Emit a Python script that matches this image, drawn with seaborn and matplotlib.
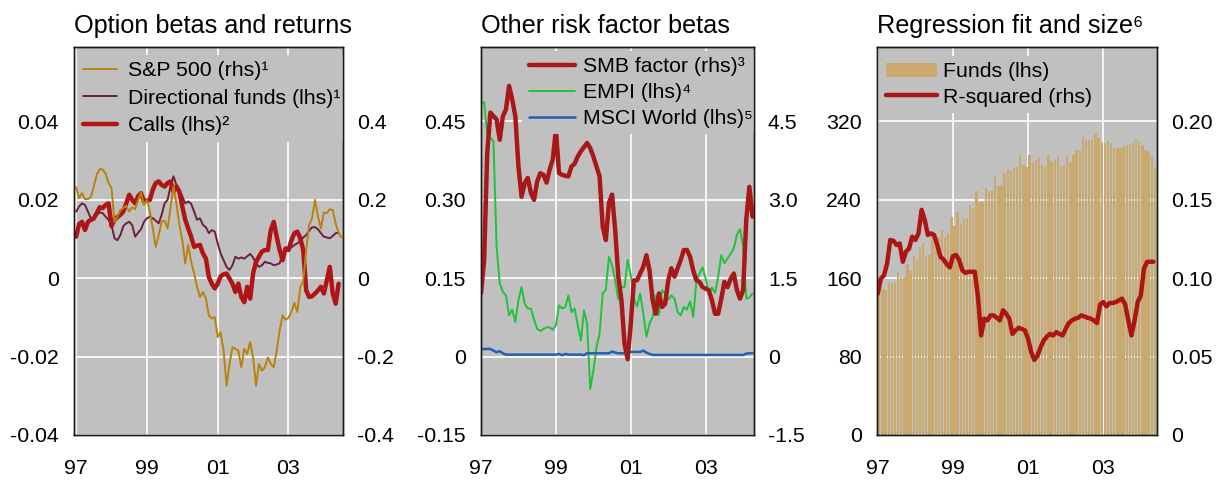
import numpy as np
import matplotlib
matplotlib.use("Agg")
import matplotlib.pyplot as plt
import seaborn as sns

# Monthly data, starting January 1997
sp500 = [0.232, 0.204, 0.217, 0.202, 0.202, 0.207, 0.234, 0.264, 0.279, 0.277,
         0.267, 0.243, 0.230, 0.144, 0.157, 0.174, 0.179, 0.185, 0.170, 0.181,
         0.176, 0.200, 0.219, 0.187, 0.200, 0.170, 0.127, 0.080, 0.110, 0.144,
         0.147, 0.127, 0.179, 0.234, 0.191, 0.136, 0.097, 0.038, 0.085, 0.042,
         0.012, -0.022, -0.048, -0.035, -0.052, -0.095, -0.103, -0.099, -0.150, -0.138,
         -0.185, -0.274, -0.219, -0.176, -0.180, -0.185, -0.227, -0.180, -0.193, -0.163,
         -0.202, -0.274, -0.219, -0.236, -0.227, -0.202, -0.219, -0.227, -0.185, -0.133,
         -0.095, -0.106, -0.101, -0.086, -0.063, -0.086, -0.022, -0.007, 0.072, 0.136,
         0.153, 0.200, 0.157, 0.127, 0.168, 0.166, 0.176, 0.174, 0.140, 0.115,
         0.104]
directional = [0.0170, 0.0183, 0.0191, 0.0187, 0.0170, 0.0153, 0.0149, 0.0162, 0.0168, 0.0166,
               0.0157, 0.0149, 0.0136, 0.0102, 0.0097, 0.0110, 0.0133, 0.0140, 0.0144, 0.0136,
               0.0106, 0.0116, 0.0125, 0.0144, 0.0153, 0.0157, 0.0153, 0.0147, 0.0140, 0.0162,
               0.0191, 0.0200, 0.0234, 0.0260, 0.0238, 0.0226, 0.0209, 0.0191, 0.0196, 0.0190,
               0.0170, 0.0149, 0.0153, 0.0136, 0.0130, 0.0115, 0.0123, 0.0119, 0.0089, 0.0063,
               0.0046, 0.0029, 0.0021, 0.0033, 0.0055, 0.0050, 0.0053, 0.0050, 0.0056, 0.0062,
               0.0053, 0.0038, 0.0029, 0.0033, 0.0042, 0.0039, 0.0038, 0.0033, 0.0035, 0.0038,
               0.0063, 0.0076, 0.0072, 0.0079, 0.0085, 0.0089, 0.0096, 0.0104, 0.0110, 0.0121,
               0.0130, 0.0130, 0.0125, 0.0115, 0.0106, 0.0104, 0.0102, 0.0108, 0.0115, 0.0116]
calls = [0.0106, 0.0138, 0.0144, 0.0123, 0.0144, 0.0149, 0.0153, 0.0166, 0.0181, 0.0179,
         0.0187, 0.0191, 0.0133, 0.0149, 0.0156, 0.0162, 0.0170, 0.0191, 0.0213, 0.0200,
         0.0191, 0.0209, 0.0217, 0.0196, 0.0198, 0.0200, 0.0226, 0.0243, 0.0247, 0.0238,
         0.0234, 0.0243, 0.0247, 0.0221, 0.0234, 0.0221, 0.0183, 0.0149, 0.0127, 0.0106,
         0.0080, 0.0083, 0.0085, 0.0063, 0.0050, 0.0003, -0.0014, -0.0026, -0.0014, 0.0005,
         0.0010, 0.0012, -0.0001, -0.0014, -0.0035, -0.0014, -0.0048, -0.0061, -0.0022, -0.0052,
         0.0012, 0.0042, 0.0055, 0.0068, 0.0072, 0.0072, 0.0123, 0.0144, 0.0106, 0.0072,
         0.0046, 0.0076, 0.0072, 0.0097, 0.0115, 0.0119, 0.0102, 0.0072, -0.0031, -0.0048,
         -0.0046, -0.0039, -0.0031, -0.0022, -0.0039, -0.0005, 0.0029, -0.0039, -0.0065, -0.0014]

smb = [1.21, 1.85, 3.90, 4.67, 4.60, 4.54, 4.15, 4.60, 4.73, 5.18,
       4.92, 4.60, 3.64, 3.06, 3.32, 3.42, 3.13, 3.00, 3.35, 3.51,
       3.48, 3.33, 3.58, 3.77, 4.35, 3.51, 3.48, 3.46, 3.45, 3.64,
       3.69, 3.83, 3.93, 4.01, 4.09, 3.99, 3.83, 3.64, 3.45, 2.49,
       2.23, 2.94, 3.10, 2.42, 1.53, 1.08, 0.24, -0.05, 0.63, 1.46,
       1.46, 1.59, 1.72, 1.94, 1.65, 1.08, 0.82, 1.21, 0.95, 1.01,
       1.46, 1.69, 1.53, 1.69, 1.85, 2.04, 2.04, 1.91, 1.65, 1.46,
       1.43, 1.33, 1.30, 1.27, 1.08, 0.82, 0.82, 1.11, 1.43, 1.33,
       1.49, 1.59, 1.27, 1.11, 1.27, 2.62, 3.25, 2.68]
empi = [0.486, 0.487, 0.425, 0.419, 0.412, 0.210, 0.140, 0.124, 0.117, 0.079,
        0.090, 0.066, 0.108, 0.133, 0.101, 0.092, 0.092, 0.071, 0.053, 0.049,
        0.053, 0.056, 0.056, 0.051, 0.060, 0.098, 0.092, 0.095, 0.117, 0.085,
        0.092, 0.060, 0.031, 0.088, 0.063, -0.062, -0.027, 0.018, 0.044, 0.121,
        0.128, 0.191, 0.175, 0.146, 0.109, 0.133, 0.133, 0.185, 0.156, 0.111,
        0.096, 0.121, 0.083, 0.038, 0.063, 0.076, 0.117, 0.079, 0.127, 0.121,
        0.109, 0.117, 0.111, 0.085, 0.079, 0.095, 0.090, 0.106, 0.076, 0.143,
        0.159, 0.171, 0.149, 0.121, 0.132, 0.122, 0.153, 0.194, 0.179, 0.188,
        0.197, 0.207, 0.233, 0.244, 0.210, 0.111, 0.113, 0.121]
msci = [0.0147, 0.0147, 0.0147, 0.0147, 0.0115, 0.0083, 0.0103, 0.0064, 0.0038, 0.0038,
        0.0038, 0.0038, 0.0038, 0.0038, 0.0038, 0.0038, 0.0038, 0.0038, 0.0038, 0.0038,
        0.0038, 0.0038, 0.0038, 0.0038, 0.0038, 0.0051, 0.0026, 0.0051, 0.0038, 0.0038,
        0.0038, 0.0038, 0.0038, 0.0026, 0.0064, 0.0064, 0.0064, 0.0064, 0.0064, 0.0064,
        0.0064, 0.0064, 0.0096, 0.0077, 0.0064, 0.0064, 0.0064, 0.0077, 0.0090, 0.0090,
        0.0090, 0.0090, 0.0115, 0.0077, 0.0051, 0.0032, 0.0032, 0.0032, 0.0032, 0.0032,
        0.0032, 0.0032, 0.0032, 0.0032, 0.0032, 0.0032, 0.0032, 0.0032, 0.0032, 0.0032,
        0.0032, 0.0032, 0.0032, 0.0032, 0.0032, 0.0032, 0.0032, 0.0032, 0.0032, 0.0032,
        0.0032, 0.0032, 0.0032, 0.0032, 0.0032, 0.0058, 0.0064, 0.0064]

funds = [148, 149, 148, 156, 155, 155, 167, 161, 161, 175,
         167, 184, 179, 192, 196, 184, 184, 206, 202, 202,
         209, 202, 206, 223, 213, 228, 216, 220, 221, 235,
         232, 249, 238, 238, 252, 249, 249, 264, 254, 254,
         267, 271, 269, 272, 274, 286, 276, 274, 286, 278,
         281, 284, 276, 274, 286, 279, 281, 284, 275, 276,
         286, 279, 286, 291, 291, 304, 301, 301, 301, 308,
         303, 299, 298, 300, 298, 293, 293, 293, 295, 296,
         296, 298, 302, 300, 296, 291, 290, 286, 274]
rsq = [0.0902, 0.0998, 0.1019, 0.1094, 0.1244, 0.1239, 0.1212, 0.1222, 0.1105, 0.1169,
       0.1190, 0.1265, 0.1244, 0.1286, 0.1436, 0.1372, 0.1276, 0.1286, 0.1276, 0.1212,
       0.1137, 0.1120, 0.1090, 0.1069, 0.1141, 0.1148, 0.1116, 0.1051, 0.1034, 0.1041,
       0.1041, 0.1041, 0.0880, 0.0635, 0.0742, 0.0731, 0.0763, 0.0763, 0.0748, 0.0731,
       0.0795, 0.0774, 0.0742, 0.0645, 0.0667, 0.0684, 0.0677, 0.0667, 0.0613, 0.0528,
       0.0479, 0.0506, 0.0560, 0.0603, 0.0628, 0.0645, 0.0635, 0.0656, 0.0645, 0.0635,
       0.0677, 0.0714, 0.0731, 0.0742, 0.0748, 0.0763, 0.0756, 0.0748, 0.0742, 0.0731,
       0.0714, 0.0833, 0.0848, 0.0821, 0.0842, 0.0842, 0.0848, 0.0859, 0.0870, 0.0833,
       0.0731, 0.0635, 0.0731, 0.0848, 0.0891, 0.1062, 0.1105, 0.1105, 0.1105]

year_ticks = [1997, 1999, 2001, 2003]
year_labels = ["97", "99", "01", "03"]

p1_left_ticks = [-0.04, -0.02, 0, 0.02, 0.04]
p1_left_labels = ["-0.04", "-0.02", "0", "0.02", "0.04"]
p1_right_ticks = [-0.4, -0.2, 0, 0.2, 0.4]
p1_right_labels = ["-0.4", "-0.2", "0", "0.2", "0.4"]
p2_left_ticks = [-0.15, 0, 0.15, 0.30, 0.45]
p2_left_labels = ["-0.15", "0", "0.15", "0.30", "0.45"]
p2_right_ticks = [-1.5, 0, 1.5, 3.0, 4.5]
p2_right_labels = ["-1.5", "0", "1.5", "3.0", "4.5"]
p3_left_ticks = [0, 80, 160, 240, 320]
p3_left_labels = ["0", "80", "160", "240", "320"]
p3_right_ticks = [0, 0.05, 0.10, 0.15, 0.20]
p3_right_labels = ["0", "0.05", "0.10", "0.15", "0.20"]


def months(n, offset=0.0):
    return 1997 + (np.arange(n) + offset) / 12


BG = "#c0c0c0"
sns.set_style("darkgrid", {"axes.facecolor": BG, "grid.color": "white",
                           "axes.edgecolor": "#1a1a1a", "axes.linewidth": 1.0,
                           "grid.linewidth": 1.2, "text.color": "black",
                           "xtick.color": "black", "ytick.color": "black",
                           "axes.labelcolor": "black"})
plt.rcParams["font.family"] = ["Liberation Sans", "DejaVu Sans"]

FS = 15.3
fig = plt.figure(figsize=(12.27, 4.8), dpi=100)
bottom, height = 45 / 480, 388 / 480
ax1 = fig.add_axes([74 / 1227, bottom, 269 / 1227, height])
ax2 = fig.add_axes([481 / 1227, bottom, 273 / 1227, height])
ax3 = fig.add_axes([877 / 1227, bottom, 280 / 1227, height])

STEPS = 4.95  # visible tick steps between bottom and top of each panel


def style(ax, axr, lt, ll, rt, lr, xlim, title):
    ax.set_xlim(*xlim)
    ax.set_ylim(lt[0], lt[0] + STEPS * (lt[1] - lt[0]))
    axr.set_ylim(rt[0], rt[0] + STEPS * (rt[1] - rt[0]))
    ax.set_yticks(lt, labels=ll)
    axr.set_yticks(rt, labels=lr)
    ax.set_xticks(year_ticks, labels=year_labels)
    ax.tick_params(axis="y", length=0, labelsize=FS, pad=11)
    ax.tick_params(axis="x", length=0, labelsize=FS, pad=17)
    axr.tick_params(axis="y", length=0, labelsize=FS, pad=10)
    axr.grid(False)
    ax.grid(True, color="white", lw=1.2)
    for a in (ax, axr):
        a.set_xlabel("")
        a.set_ylabel("")
        for s in a.spines.values():
            s.set_visible(True)
            s.set_color("#1a1a1a")
            s.set_linewidth(1.0)
    ax.set_title(title, loc="left", fontsize=18.2, pad=10, color="black")


def add_legend(axr, handles, labels, anchor, loc, **kw):
    leg = axr.legend(handles, labels, loc=loc, bbox_to_anchor=anchor,
                     fontsize=FS, borderaxespad=0, frameon=True, facecolor=BG,
                     edgecolor=BG, framealpha=1, fancybox=False, **kw)
    frame = leg.get_frame()
    frame.set_linewidth(0)
    frame.set_clip_box(axr.bbox)  # keep the grey box inside the panel
    frame.set_clip_on(True)
    leg.set_zorder(2.4)  # above the lines, below the axes frame
    return leg


# Panel 1: option betas and returns
ax1r = ax1.twinx()
sns.lineplot(x=months(len(directional)), y=directional, ax=ax1, color="#6e1f3c",
             lw=1.4, label="Directional funds (lhs)¹", legend=False)
sns.lineplot(x=months(len(calls)), y=calls, ax=ax1, color="#b01414",
             lw=3.2, label="Calls (lhs)²", legend=False)
sns.lineplot(x=months(len(sp500)), y=sp500, ax=ax1r, color="#b8820c",
             lw=1.4, label="S&P 500 (rhs)¹", legend=False)
style(ax1, ax1r, p1_left_ticks, p1_left_labels, p1_right_ticks, p1_right_labels,
      (1996.94, 2004.54), "Option betas and returns")
h1, l1 = ax1.get_legend_handles_labels()
hr, lr = ax1r.get_legend_handles_labels()
add_legend(ax1r, hr + h1, lr + l1, (3 / 269, 1 - 8 / 388), "upper left",
           handlelength=1.6, handletextpad=0.5, labelspacing=0.4, borderpad=0.3)

# Panel 2: other risk factor betas
ax2r = ax2.twinx()
sns.lineplot(x=months(len(empi)), y=empi, ax=ax2, color="#1fc23a",
             lw=1.4, label="EMPI (lhs)⁴", legend=False)
sns.lineplot(x=months(len(msci)), y=msci, ax=ax2, color="#2460b0",
             lw=1.8, label="MSCI World (lhs)⁵", legend=False)
sns.lineplot(x=months(len(smb)), y=smb, ax=ax2r, color="#a81818",
             lw=3.2, label="SMB factor (rhs)³", legend=False)
style(ax2, ax2r, p2_left_ticks, p2_left_labels, p2_right_ticks, p2_right_labels,
      (1997.0, 2004.29), "Other risk factor betas")
h2, l2 = ax2.get_legend_handles_labels()
hr, lr = ax2r.get_legend_handles_labels()
add_legend(ax2r, hr + h2, lr + l2, (1 + 5 / 273, 1 - 4 / 388), "upper right",
           handlelength=2.2, handletextpad=0.35, labelspacing=0.32, borderpad=0.3)

# Panel 3: regression fit and size
ax3r = ax3.twinx()
sns.barplot(x=months(len(funds), 0.5), y=funds, ax=ax3, native_scale=True,
            color="#c9aa6c", saturation=1, width=0.75, errorbar=None,
            linewidth=0, edgecolor="none", label="Funds (lhs)", legend=False)
sns.lineplot(x=months(len(rsq)), y=rsq, ax=ax3r, color="#ad1414",
             lw=3.2, label="R-squared (rhs)", legend=False)
style(ax3, ax3r, p3_left_ticks, p3_left_labels, p3_right_ticks, p3_right_labels,
      (1996.98, 2004.43), "Regression fit and size⁶")
h3, l3 = ax3.get_legend_handles_labels()
hr, lr = ax3r.get_legend_handles_labels()
add_legend(ax3r, h3 + hr, l3 + lr, (3 / 280, 1 - 9 / 388), "upper left",
           handlelength=2.4, handletextpad=0.25, labelspacing=0.3, borderpad=0.3)

fig.savefig("out.png", dpi=100)
